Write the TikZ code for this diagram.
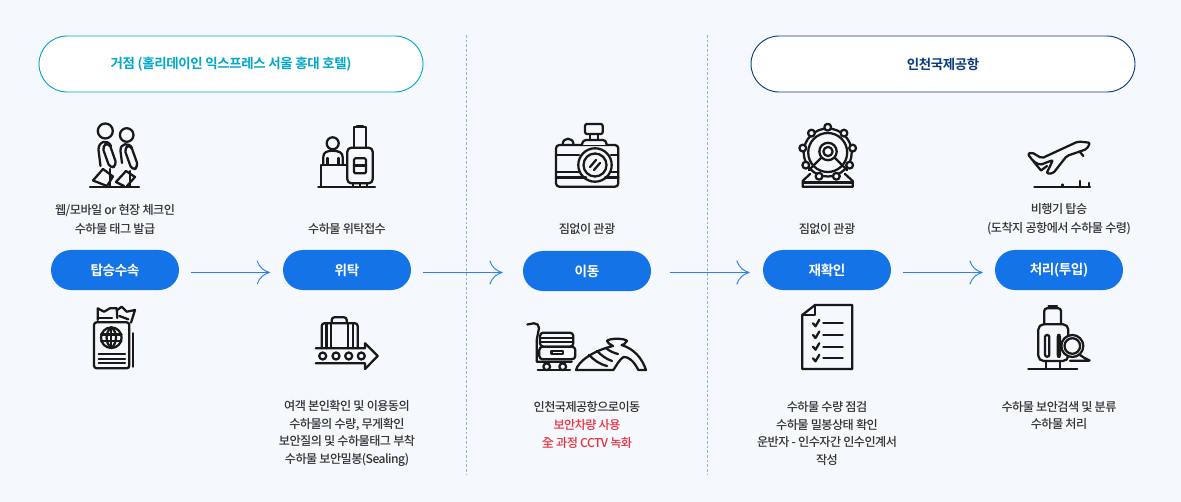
\documentclass[tikz,border=0pt]{standalone}
\usepackage{fontspec}
\usepackage{tikz}
\usetikzlibrary{arrows.meta}
\setmainfont{Noto Sans CJK KR Medium}[LetterSpace=-4.5]
\newfontfamily\boldkr{Noto Sans CJK KR Bold}[LetterSpace=-3]
\definecolor{pagebg}{HTML}{F5F8FC}
\definecolor{stageblue}{HTML}{1473E6}
\definecolor{flowblue}{HTML}{2F80ED}
\definecolor{teal}{HTML}{00A7C9}
\definecolor{navy}{HTML}{0B3B7C}
\definecolor{textgray}{HTML}{333333}
\definecolor{alertred}{HTML}{EE2F3C}
\definecolor{sepblue}{HTML}{8FB2E0}
\tikzset{
  stage/.style={fill=stageblue,text=white,rounded corners=15pt,minimum width=96pt,minimum height=30pt,inner sep=0pt,font=\boldkr\fontsize{10.2}{12}\selectfont},
  place/.style={draw=#1,fill=white,text=#1,line width=0.7pt,rounded corners=21pt,minimum width=288pt,minimum height=42pt,inner sep=0pt,font=\boldkr\fontsize{10.1}{12}\selectfont},
  note/.style={text=textgray,align=center,inner sep=0pt,font=\fontsize{9.1}{13.3}\selectfont},
  flow/.style={draw=flowblue,line width=1.1pt,-{Computer Modern Rightarrow[length=10pt,width=18pt,line width=0.7pt]}},
  sep/.style={draw=sepblue,line width=0.7pt,dash pattern=on 2pt off 1.5pt},
  icon/.style={draw=black!90,line width=1.7pt,line join=round,line cap=round}
}
\begin{document}
\begin{tikzpicture}[x=0.75pt,y=-0.75pt]
\useasboundingbox (0,0) rectangle (1181,502);
\fill[pagebg] (0,0) rectangle (1181,502);

% Separators
\draw[sep] (466,35) -- (466,475);
\draw[sep] (707,35) -- (707,475);

% Places
\node[place=teal] (hotel) at (231,64) {거점 (홀리데이인 익스프레스 서울 홍대 호텔)};
\node[place=navy] (airport) at (943,64) {인천국제공항};

% Stages
\node[stage] (boarding) at (115,270) {탑승수속};
\node[stage] (checkin) at (347,270) {위탁};
\node[stage] (moving) at (587,271) {이동};
\node[stage] (recheck) at (827,270) {재확인};
\node[stage] (handling) at (1059,270) {처리(투입)};

% Arrows
\coordinate (rail) at (0,272.5);
\draw[flow,shorten <=9pt,shorten >=9.5pt] (boarding.east |- rail) -- (checkin.west |- rail);
\draw[flow,shorten <=9pt,shorten >=15pt] (checkin.east |- rail) -- (moving.west |- rail);
\draw[flow,shorten <=14.25pt,shorten >=9.75pt] (moving.east |- rail) -- (recheck.west |- rail);
\draw[flow,shorten <=9pt,shorten >=9pt] (recheck.east |- rail) -- (handling.west |- rail);

% Upper labels
\node[note] (n1) at (115,219.3) {웹/모바일 or 현장 체크인\\[1pt]수하물 태그 발급};
\node[note] (n2) at (347,228.8) {수하물 위탁접수};
\node[note] (n3) at (587,228.8) {짐없이 관광};
\node[note] (n4) at (827,228.8) {짐없이 관광};
\node[note] (n5) at (1059,219.3) {비행기 탑승\\[1pt](도착지 공항에서 수하물 수령)};

% Lower labels
\node[note] (n6) at (347,433.5) {여객 본인확인 및 이용동의\\수하물의 수량, 무게확인\\보안질의 및 수하물태그 부착\\수하물 보안밀봉(Sealing)};
\node[note] (n7) at (587,425) {인천국제공항으로이동\\\textcolor{alertred}{보안차량 사용}\\\textcolor{alertred}{全 과정 CCTV 녹화}};
\node[note] (n8) at (827,433.5) {수하물 수량 점검\\수하물 밀봉상태 확인\\운반자 - 인수자간 인수인계서\\작성};
\node[note] (n9) at (1059,415.5) {수하물 보안검색 및 분류\\수하물 처리};

% Walkers
\draw[icon] (105.3,131) circle (7.5);
\draw[icon] (126.7,135) circle (6.8);
\draw[icon] (90,186.7) -- (139,186.7);
\draw[icon] (100.5,166) -- (98.5,150) .. controls (98,141) and (108,139) .. (111,146);
\draw[icon,rounded corners=3.5pt] (102,146) -- (109,142.5) -- (117,165.5) -- (110,168.5) -- cycle;
\draw[icon] (110,169) -- (110,186);
\draw[icon] (122,163) -- (120.5,151) .. controls (120,143) and (129,142) .. (132,148);
\draw[icon,rounded corners=3.5pt] (124,148) -- (130.5,144.5) -- (138.5,167) -- (132,170.5) -- cycle;
\draw[icon] (130,171) -- (130,186);
\draw[icon] (93,180.5) -- (103,169) -- (113,176.5) -- (107,186);
\draw[icon] (93,180.5) -- (107,186);
\draw[icon] (116,182) -- (126,171) -- (135,177) -- (127,186);
\draw[icon] (116,182) -- (124,186);

% Reception desk
\draw[icon] (332.7,143.3) circle (6);
\draw[icon] (323.3,165) -- (323.3,157) .. controls (323.3,152) and (327,151) .. (332.7,150.7) .. controls (338,151) and (342.7,152) .. (342.7,157) -- (342.7,165);
\draw[icon] (327.5,158) -- (327.5,165);
\draw[icon] (338.5,158) -- (338.5,165);
\draw[icon] (320.7,186.7) -- (320.7,165) -- (346.7,165);
\draw[icon] (318.3,186.7) -- (375,186.7);
\draw[icon,rounded corners=3pt] (347.3,147.7) rectangle (372.7,183.3);
\draw[icon] (354,147.7) -- (354,127.3) -- (366,127.3) -- (366,147.7);
\draw[icon] (357,125.7) -- (363,125.7);
\draw[icon,rounded corners=1pt] (354,158.3) rectangle (366,173.3);
\draw[icon] (354,165.5) -- (366,165.5);
\draw[icon] (353,183.3) -- (353,186.7);
\draw[icon] (360,183.3) -- (360,186.7);
\draw[icon] (367,183.3) -- (367,186.7);

% Passport
\draw[icon,rounded corners=2pt] (94,322.3) rectangle (129.3,368.3);
\draw[icon] (111.3,337.7) circle (10.3);
\draw[icon] (111.3,327.4) .. controls (105,332) and (105,343) .. (111.3,348);
\draw[icon] (111.3,327.4) .. controls (117.6,332) and (117.6,343) .. (111.3,348);
\draw[icon] (111.3,327.4) -- (111.3,348);
\draw[icon] (101,334.5) -- (121.6,334.5);
\draw[icon] (101,341) -- (121.6,341);
\draw[icon] (98.7,354) -- (125,354);
\draw[icon] (98.7,358.7) -- (125,358.7);
\draw[icon] (98.7,363.3) -- (125,363.3);
\draw[icon] (132.7,333.3) -- (132.7,366.7);
\draw[icon] (97.7,320) -- (97.7,308.3) -- (104,311.7) -- (110,308.3) -- (116.7,308.3) -- (117.3,318);
\draw[icon] (97.7,318) -- (112,318);
\draw[icon] (117.3,310) -- (121.7,306.7) -- (126.7,311.7) -- (135,310) -- (131,322.7);
\draw[icon] (119.3,316) -- (128.3,319.3);

% Conveyor
\draw[icon,rounded corners=2pt] (321.7,348.3) -- (321.7,323.3) -- (357.7,323.3) -- (357.7,348.3);
\draw[icon,rounded corners=2pt] (331.7,323.3) -- (331.7,317.3) -- (346.7,317.3) -- (346.7,323.3);
\draw[icon] (326.5,323.3) -- (326.5,348.3);
\draw[icon] (331,323.3) -- (331,348.3);
\draw[icon] (348.3,323.3) -- (348.3,348.3);
\draw[icon] (353,323.3) -- (353,348.3);
\draw[icon] (315.7,348.3) -- (365,348.3) -- (365,343.3) -- (377.7,356) -- (365,369) -- (365,363.3) -- (315.7,363.3);
\foreach \cx in {322.7,336,348.7,361.3}
  \draw[icon] (\cx,356) circle (3.5);

% Camera
\draw[icon,rounded corners=2.5pt] (556,145) rectangle (618.3,186.7);
\draw[icon,fill=pagebg] (581.7,145) .. controls (583,141) and (584,140) .. (586,140) -- (602.7,140) .. controls (605,140) and (606,141) .. (606.7,145);
\draw[icon,rounded corners=1.5pt] (585,124) rectangle (602.7,134);
\draw[icon] (590,134) -- (590,140);
\draw[icon] (597.7,134) -- (597.7,140);
\draw[icon] (562.7,144) .. controls (563,137) and (573,137) .. (573.5,144);
\draw[icon,fill=pagebg] (595,165) circle (16.7);
\draw[icon] (595,165) circle (11.5);
\draw[icon] (590,167) -- (596,160);
\draw[icon] (594,170) -- (600,163);
\draw[icon] (556,155) -- (579,155);
\draw[icon] (556,172) -- (579,172);
\draw[icon] (556,177.5) -- (586,177.5);
\draw[icon] (611,155) -- (618.3,155);
\draw[icon] (611,172) -- (618.3,172);
\draw[icon] (605,177.5) -- (618.3,177.5);

% Ferris wheel
\draw[icon] (827.7,152.5) circle (24);
\draw[icon] (827.7,152.5) circle (19.5);
\draw[icon] (828,151.5) circle (8.7);
\draw[icon] (828,151.5) circle (4.6);
\foreach \an in {-90,-50,-10,30,70,110,150,190,230}
  \draw[icon,fill=pagebg] (827.7,152.5) ++(\an:25.3) circle (3.4);
\draw[icon] (821,158) -- (809,170);
\draw[icon] (835,158) -- (847,170);
\draw[icon] (802.7,186.7) -- (852.7,186.7) -- (852.7,181) -- (845,174);
\draw[icon] (802.7,186.7) -- (802.7,181) -- (810,174);
\draw[icon] (803,182.5) -- (852,182.5);

% Aeroplane
\draw[icon,rounded corners=1.5pt] (1090,142.7) -- (1078,141.5) -- (1041.7,158.3) -- (1031.7,152.3) -- (1027.7,154) -- (1033.5,161.5) -- (1040,165) -- (1053,160) -- (1046.5,173.5) -- (1053,173.5) -- (1066.7,156) -- (1087,149) -- cycle;
\draw[icon] (1033.5,161.5) -- (1041,170.5) -- (1047,166);
\draw[icon] (1080,152) -- (1083.3,156);
\draw[icon] (1034.3,186.7) -- (1090,186.7);
\draw[icon] (1062.5,184.5) -- (1062.5,186.7);
\draw[icon] (1080,181) -- (1080,186.7);
\draw[icon] (1089,183) -- (1089,186.7);

% Cart and terminal
\draw[icon] (527.3,324.5) -- (534,323.3) .. controls (537,323.3) and (539,325) .. (539,328) -- (536.7,340) -- (536.7,361.7) -- (571.7,361.7);
\draw[icon] (546.7,366.7) circle (3.4);
\draw[icon] (562.7,366.7) circle (3.4);
\draw[icon] (537.7,370) -- (570,370);
\draw[icon,rounded corners=2.5pt] (539.3,346.7) rectangle (575.3,359.3);
\draw[icon,rounded corners=2.5pt] (540,332.7) rectangle (573.3,346.7);
\draw[icon] (540,337.7) -- (573.3,337.7);
\draw[icon] (540,342.3) -- (573.3,342.3);
\draw[icon] (551.5,351) rectangle (563,354);
\draw[icon] (576,370) .. controls (578,362) and (592,351) .. (613,346) .. controls (610,344) and (607,343) .. (607,341);
\draw[icon] (607,341) .. controls (609,338) and (625,338) .. (627,341) .. controls (626,344) and (622,345) .. (621.7,345);
\draw[icon] (621.7,345) .. controls (634,349) and (642,358) .. (646,370) -- (638.3,370) .. controls (634,361) and (628,356.5) .. (624,357) .. controls (620,358) and (615,368) .. (613.3,370) -- (578,370) -- (576,370);
\draw[icon] (589,355) .. controls (594,360) and (599,364) .. (607,366);
\draw[icon] (597,351) .. controls (601,355) and (606,359) .. (612,361);
\draw[icon] (606,348) .. controls (609,351) and (614,353) .. (618,354);

% Checklist
\draw[icon] (802.3,315) -- (815,305) -- (852.3,305) -- (852.3,369) -- (802.3,369) -- cycle;
\draw[icon] (815,305) -- (815,315) -- (802.3,315);
\foreach \rowy in {323.3,335,346.7,358.3}{
  \draw[icon] (813,\rowy) -- (815.5,\rowy+3) -- (819.3,\rowy-3.5);
  \draw[icon] (823.3,\rowy) -- (842.7,\rowy);
}

% Bag and magnifier
\draw[icon,rounded corners=4pt] (1038.3,324.3) rectangle (1068.3,361);
\draw[icon,rounded corners=2pt] (1044.3,324.3) -- (1044.3,308.3) -- (1061,308.3) -- (1061,324.3);
\draw[icon] (1048.5,306) -- (1057,306);
\draw[icon] (1028.3,368.7) -- (1077.3,368.7);
\draw[icon] (1046,361) -- (1046,368.7);
\draw[icon] (1060,361) -- (1060,368.7);
\draw[icon,rounded corners=1.5pt] (1045,335) rectangle (1049.3,356.7);
\draw[icon,rounded corners=1.5pt] (1057.7,335) rectangle (1060,356.7);
\draw[icon,fill=pagebg] (1072.3,346) circle (11);
\draw[icon] (1072.3,346) circle (7.8);
\draw[icon,rounded corners=1.5pt] (1080,355) -- (1086,359) -- (1090.7,360.7) -- (1070,360.7);
\end{tikzpicture}
\end{document}
